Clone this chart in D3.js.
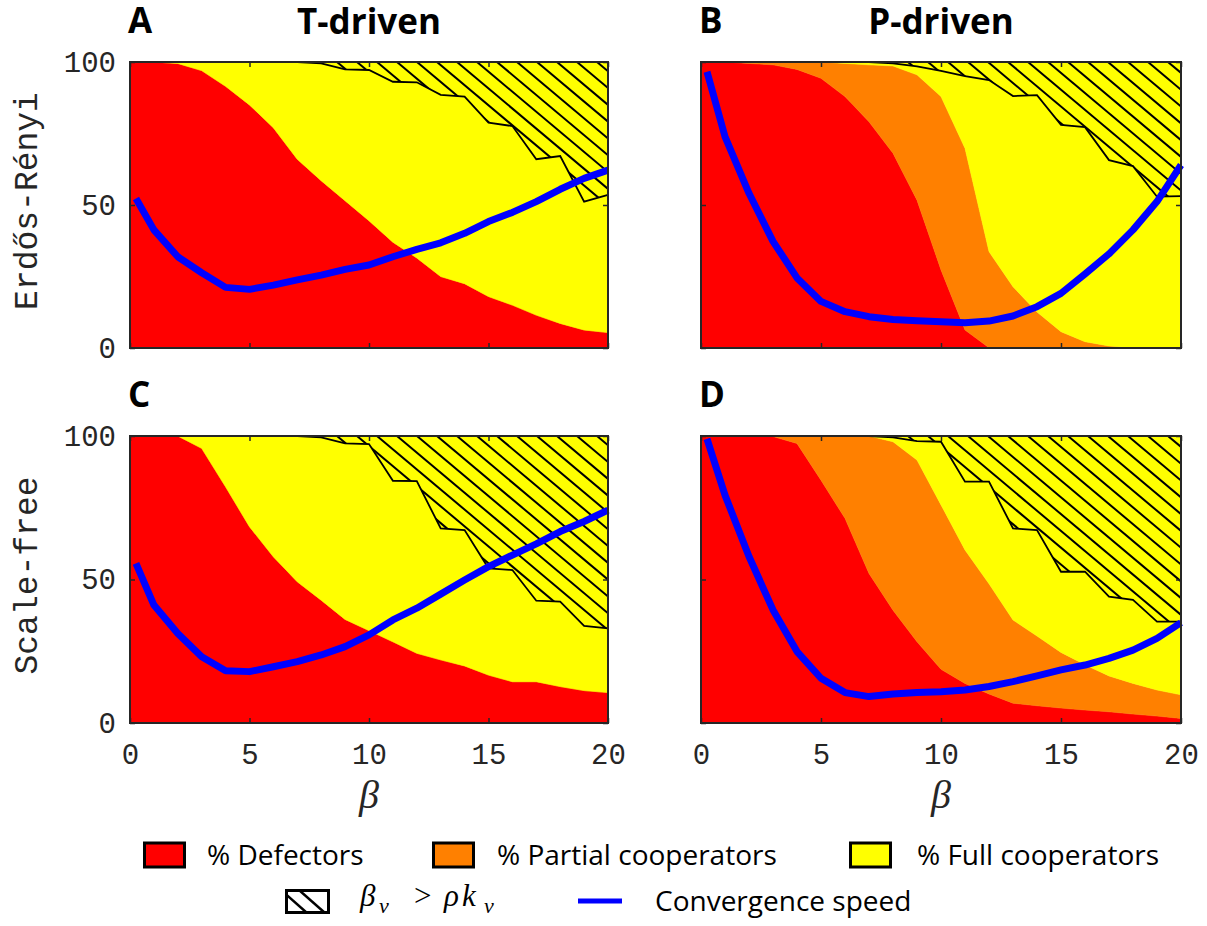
<!DOCTYPE html>
<html>
<head>
<meta charset="utf-8">
<script src="https://cdn.jsdelivr.net/npm/d3@7"></script>
<style>
  body { margin: 0; background: #fff; }
  .mono { font-family: 'Liberation Mono', 'DejaVu Sans Mono', monospace; fill: #262626; }
  .sans { font-family: 'Open Sans', 'Noto Sans', sans-serif; }
</style>
</head>
<body>
<div id="chart"></div>
<script>
// x values of the stacked areas and of the convergence speed curves
var areaBeta  = [0, 1, 2, 3, 4, 5, 6, 7, 8, 9, 10, 11, 12, 13, 14, 15, 16, 17, 18, 19, 20];
var speedBeta = [0.25, 1, 2, 3, 4, 5, 6, 7, 8, 9, 10, 11, 12, 13, 14, 15, 16, 17, 18, 19, 20];
var xTicks = [0, 5, 10, 15, 20];
var yTicks = [0, 50, 100];

// A: Erdos-Renyi, T-driven
var defA   = [100, 100, 99.5, 97, 91.5, 85, 77, 66, 58.5, 51.5, 44.5, 37, 31.5, 25, 22.5, 18, 15, 11.5, 8.6, 6.3, 5.4];
var partA  = [0, 0, 0, 0, 0, 0, 0, 0, 0, 0, 0, 0, 0, 0, 0, 0, 0, 0, 0, 0, 0];
var hatchA = [100, 100, 100, 100, 100, 100, 100, 100, 99.5, 97.4, 97.2, 93.1, 92.9, 88.5, 87.9, 78.8, 77.6, 66, 67.1, 51.2, 53.5];
var speedA = [52.3, 41.3, 31.9, 26.3, 21.2, 20.5, 22.0, 23.8, 25.5, 27.5, 29.0, 31.9, 34.5, 36.8, 40.1, 44.2, 47.4, 51.2, 55.5, 59.3, 62.2];

// B: Erdos-Renyi, P-driven
var defB   = [100, 100, 99.5, 99, 97.4, 94.3, 87.9, 79.1, 68.1, 51.7, 27.3, 6.3, 0.1, 0, 0, 0, 0, 0, 0, 0, 0];
var partB  = [0, 0, 0.5, 1, 2.6, 5.7, 11.6, 19.9, 30.5, 43.8, 60.6, 63.5, 33.6, 21.4, 12.6, 5.7, 2.2, 0.7, 0.1, 0, 0];
var hatchB = [100, 100, 100, 100, 100, 100, 100, 100, 99.5, 98.5, 96.9, 95.1, 93.7, 88.1, 88.4, 78, 77.2, 65.7, 63.6, 52.9, 53.1];
var speedB = [96.6, 73.9, 54.1, 37.3, 24.5, 16.3, 12.7, 10.95, 10.0, 9.56, 9.2, 8.86, 9.4, 11.2, 14.45, 19.1, 25.9, 32.9, 41.3, 51.2, 64];

// C: scale-free, T-driven
var defC   = [100, 100, 100, 95.7, 82.3, 68.4, 57.9, 49.2, 42.8, 36.1, 32.2, 28.3, 24.3, 22, 19.9, 16.7, 14.4, 14.4, 12.7, 11.3, 10.6];
var partC  = [0, 0, 0, 0, 0, 0, 0, 0, 0, 0, 0, 0, 0, 0, 0, 0, 0, 0, 0, 0, 0];
var hatchC = [100, 100, 100, 100, 100, 100, 100, 100, 99.5, 97.4, 97.2, 84.4, 84.3, 67.8, 67.2, 53.9, 53.3, 42.6, 42.3, 33.8, 33];
var speedC = [55.6, 41.1, 31.2, 23.1, 18.2, 17.9, 19.6, 21.4, 23.7, 26.6, 30.7, 35.9, 40.0, 44.9, 49.8, 54.5, 58.5, 62.4, 66.7, 70.2, 74.2];

// D: scale-free, P-driven
var defD   = [100, 100, 100, 99.8, 97.4, 84.6, 71.3, 52.1, 39.3, 28.3, 18.7, 13.8, 10.1, 6.9, 6.0, 5.2, 4.5, 3.9, 3.1, 2.4, 1.6];
var partD  = [0, 0, 0, 0.2, 2.6, 15.4, 28.7, 47.9, 58.7, 63.3, 57.3, 46.5, 38.4, 29, 24.3, 19.4, 15.8, 12.5, 10.7, 9.1, 8.2];
var hatchD = [100, 100, 100, 100, 100, 100, 100, 100, 99.5, 98.2, 98, 84.1, 84.1, 67.8, 67.2, 52.7, 52.7, 44, 42.9, 35.3, 35.3];
var speedD = [99, 79.4, 58, 39.4, 24.9, 15.6, 10.6, 9.2, 10.1, 10.6, 10.9, 11.5, 12.7, 14.4, 16.4, 18.5, 20.2, 22.5, 25.4, 29.5, 35];

var legendLabels = ['% Defectors', '% Partial cooperators', '% Full cooperators'];

var red = '#ff0000',
    orange = '#ff8000',
    yellow = '#ffff00',
    blue = '#0000ff',
    axisColor = '#262626';

var svg = d3.select('#chart')
    .append('svg')
        .attr('width', 1207)
        .attr('height', 926);

var panels = [
    { letter: 'A', title: 'T-driven', ylabel: 'Erdős-Rényi', def: defA, part: partA, hatch: hatchA, speed: speedA,
      left: 130, right: 608, top: 62, bottom: 348, yLabels: true, xLabels: false },
    { letter: 'B', title: 'P-driven', ylabel: null, def: defB, part: partB, hatch: hatchB, speed: speedB,
      left: 701, right: 1181, top: 62, bottom: 348, yLabels: false, xLabels: false },
    { letter: 'C', title: null, ylabel: 'Scale-free', def: defC, part: partC, hatch: hatchC, speed: speedC,
      left: 130, right: 608, top: 436, bottom: 723, yLabels: true, xLabels: true },
    { letter: 'D', title: null, ylabel: null, def: defD, part: partD, hatch: hatchD, speed: speedD,
      left: 701, right: 1181, top: 436, bottom: 723, yLabels: false, xLabels: true }
];

panels.forEach(function(p, idx) {
    var w = p.right - p.left,
        h = p.bottom - p.top;

    var g = svg.append('g')
        .attr('transform', 'translate(' + p.left + ',' + p.top + ')');

    var x = d3.scaleLinear().domain([0, 20]).range([0, w]);
    var y = d3.scaleLinear().domain([0, 100]).range([h, 0]);

    // stacked areas
    var rows = areaBeta.map(function(b, i) {
        return { beta: b, def: p.def[i], part: p.part[i], full: 100 - p.def[i] - p.part[i] };
    });
    var series = d3.stack().keys(['def', 'part', 'full'])(rows);
    var colors = [red, orange, yellow];
    var area = d3.area()
        .x(function(d) { return x(d.data.beta); })
        .y0(function(d) { return y(d[0]); })
        .y1(function(d) { return y(d[1]); });

    g.selectAll('.layer')
        .data(series)
        .enter().append('path')
        .attr('class', 'layer')
        .attr('d', area)
        .style('fill', function(d, i) { return colors[i]; })
        .style('stroke', function(d, i) { return colors[i]; })
        .style('stroke-width', 0.5);

    // hatched region (beta_v > rho k_v)
    var hatchArea = d3.area()
        .x(function(d, i) { return x(areaBeta[i]); })
        .y0(y(100))
        .y1(function(d) { return y(d); });

    var clipId = 'hatch-clip-' + idx;
    g.append('clipPath')
        .attr('id', clipId)
        .append('path')
        .attr('d', hatchArea(p.hatch));

    var slope = 0.84, spacing = 20;
    var hatchLines = g.append('g').attr('clip-path', 'url(#' + clipId + ')');
    for (var k = -30; k < 30; k++) {
        var x0 = 7 + spacing * k;
        hatchLines.append('line')
            .attr('x1', x0)
            .attr('y1', 0)
            .attr('x2', x0 + h / slope)
            .attr('y2', h)
            .style('stroke', '#000')
            .style('stroke-width', 2);
    }

    var hatchEdge = d3.line()
        .x(function(d, i) { return x(areaBeta[i]); })
        .y(function(d) { return y(d); });
    g.append('path')
        .attr('d', hatchEdge(p.hatch))
        .style('fill', 'none')
        .style('stroke', '#000')
        .style('stroke-width', 1.8);

    // convergence speed
    var speedLine = d3.line()
        .x(function(d, i) { return x(speedBeta[i]); })
        .y(function(d) { return y(d); });
    g.append('path')
        .attr('d', speedLine(p.speed))
        .style('fill', 'none')
        .style('stroke', blue)
        .style('stroke-width', 7)
        .style('stroke-linejoin', 'round');

    // axes (ticks pointing inward, box on)
    var left = g.append('g')
        .call(d3.axisLeft(y).tickValues(yTicks).tickSize(-5).tickPadding(14)
            .tickFormat(p.yLabels ? d3.format('d') : function() { return ''; }));
    var rightAx = g.append('g')
        .attr('transform', 'translate(' + w + ',0)')
        .call(d3.axisRight(y).tickValues(yTicks).tickSize(-5).tickFormat(function() { return ''; }));
    var bottom = g.append('g')
        .attr('transform', 'translate(0,' + h + ')')
        .call(d3.axisBottom(x).tickValues(xTicks).tickSize(-5).tickPadding(20)
            .tickFormat(p.xLabels ? d3.format('d') : function() { return ''; }));
    var topAx = g.append('g')
        .call(d3.axisTop(x).tickValues(xTicks).tickSize(-5).tickFormat(function() { return ''; }));

    [left, rightAx, bottom, topAx].forEach(function(a) {
        a.select('.domain').remove();
        a.selectAll('line').style('stroke', axisColor).style('stroke-width', 1.5);
        a.selectAll('text')
            .attr('class', 'mono')
            .style('font-size', '29px')
            .style('fill', axisColor);
    });

    g.append('rect')
        .attr('width', w)
        .attr('height', h)
        .style('fill', 'none')
        .style('stroke', axisColor)
        .style('stroke-width', 2);

    // panel letter and title
    svg.append('text')
        .attr('class', 'sans')
        .attr('x', p.left - 2)
        .attr('y', p.top - 29)
        .style('font-size', '35px')
        .style('font-weight', 'bold')
        .text(p.letter);

    if (p.title) {
        svg.append('text')
            .attr('class', 'sans')
            .attr('x', p.left + w / 2)
            .attr('y', p.top - 28)
            .attr('text-anchor', 'middle')
            .style('font-size', '35px')
            .style('font-weight', 'bold')
            .text(p.title);
    }

    // y label
    if (p.ylabel) {
        svg.append('text')
            .attr('class', 'mono')
            .attr('transform', 'translate(' + 37 + ',' + (p.top + h / 2 - 4) + ') rotate(-90)')
            .attr('text-anchor', 'middle')
            .style('font-size', '33px')
            .text(p.ylabel);
    }

    // x label
    if (p.xLabels) {
        svg.append('text')
            .attr('x', p.left + w / 2)
            .attr('y', 808)
            .attr('text-anchor', 'middle')
            .style('font-family', "'Liberation Serif', serif")
            .style('font-style', 'italic')
            .style('font-size', '40px')
            .style('fill', axisColor)
            .text('β');
    }
});

// legend
var legend = svg.append('g');
var boxX = [143, 432, 849],
    textX = [207, 497, 917],
    boxColors = [red, orange, yellow];

legendLabels.forEach(function(label, i) {
    legend.append('rect')
        .attr('x', boxX[i] + 1.5)
        .attr('y', 843)
        .attr('width', 40)
        .attr('height', 24)
        .style('fill', boxColors[i])
        .style('stroke', '#000')
        .style('stroke-width', 3);
    legend.append('text')
        .attr('class', 'sans')
        .attr('x', textX[i])
        .attr('y', 865)
        .style('font-size', '28px')
        .text(label);
});

// hatch legend box
legend.append('clipPath')
    .attr('id', 'legend-hatch')
    .append('rect')
    .attr('x', 286.5).attr('y', 890.5).attr('width', 42).attr('height', 22);
var lh = legend.append('g').attr('clip-path', 'url(#legend-hatch)');
[281, 299].forEach(function(x0) {
    lh.append('line')
        .attr('x1', x0).attr('y1', 890)
        .attr('x2', x0 + 26).attr('y2', 913)
        .style('stroke', '#000')
        .style('stroke-width', 2.5);
});
legend.append('rect')
    .attr('x', 286.5)
    .attr('y', 890.5)
    .attr('width', 42)
    .attr('height', 22)
    .style('fill', 'none')
    .style('stroke', '#000')
    .style('stroke-width', 3);

var math = legend.append('g')
    .style('font-family', "'Liberation Serif', serif")
    .style('fill', '#000');
math.append('text').attr('x', 360).attr('y', 906).style('font-size', '31px').style('font-style', 'italic').text('β');
math.append('text').attr('x', 379).attr('y', 913).style('font-size', '22px').style('font-style', 'italic').text('v');
math.append('text').attr('x', 414).attr('y', 906).style('font-size', '31px').text('>');
math.append('text').attr('x', 444).attr('y', 906).style('font-size', '31px').style('font-style', 'italic').text('ρ');
math.append('text').attr('x', 462).attr('y', 906).style('font-size', '31px').style('font-style', 'italic').text('k');
math.append('text').attr('x', 484).attr('y', 913).style('font-size', '22px').style('font-style', 'italic').text('v');

legend.append('line')
    .attr('x1', 578).attr('y1', 901)
    .attr('x2', 622).attr('y2', 901)
    .style('stroke', blue)
    .style('stroke-width', 5);
legend.append('text')
    .attr('class', 'sans')
    .attr('x', 655)
    .attr('y', 911)
    .style('font-size', '28px')
    .text('Convergence speed');
</script>
</body>
</html>
